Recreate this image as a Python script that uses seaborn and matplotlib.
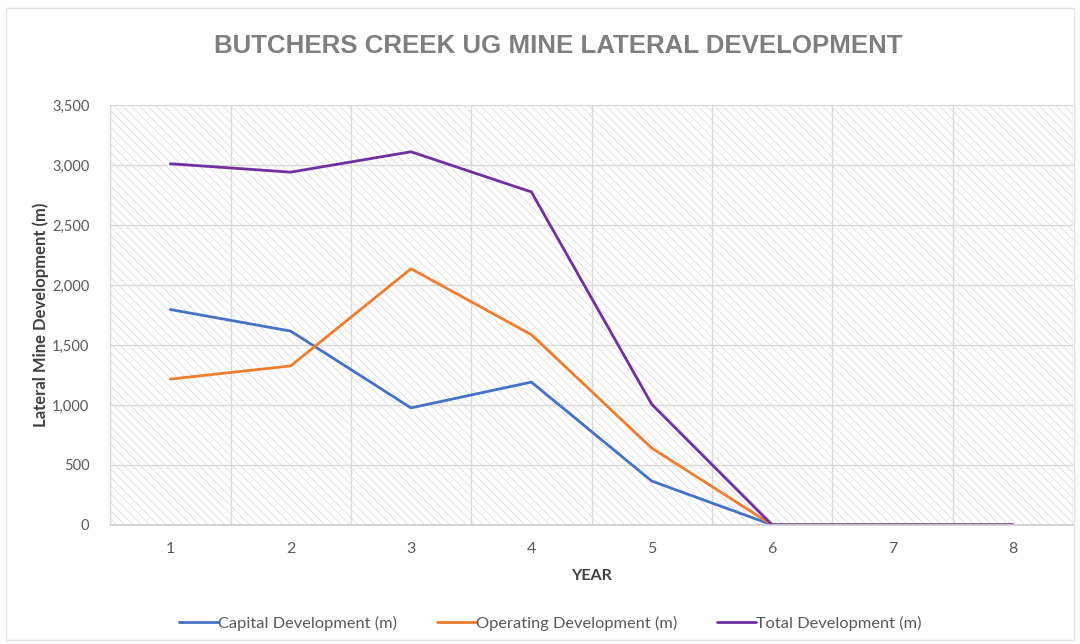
import matplotlib
matplotlib.use("Agg")
import matplotlib.pyplot as plt
import matplotlib.ticker as mticker
from matplotlib.patches import Rectangle
import seaborn as sns
import pandas as pd

years = [1, 2, 3, 4, 5, 6, 7, 8]
capital = [1795, 1615, 975, 1190, 365, 0, 0, 0]
operating = [1215, 1325, 2135, 1585, 640, 0, 0, 0]
total = [3010, 2940, 3110, 2775, 1005, 0, 0, 0]
series_names = ["Capital Development (m)", "Operating Development (m)", "Total Development (m)"]
colors = ["#4472C4", "#ED7D31", "#7030A0"]

df = pd.concat([
    pd.DataFrame({"Year": years, "Value": vals, "Series": name})
    for name, vals in zip(series_names, [capital, operating, total])
])

sns.set_theme(style="white")
plt.rcParams["font.family"] = ["Lato", "DejaVu Sans"]
plt.rcParams["hatch.linewidth"] = 0.6

fig = plt.figure(figsize=(10.8, 6.44), dpi=100)
fig.patches.append(Rectangle((0.006, 0.006), 0.988, 0.982, transform=fig.transFigure,
                             fill=False, edgecolor="#e3e3e3", linewidth=1.0))
ax = fig.add_axes([0.102, 0.185, 0.8915, 0.652])

# hatched plot-area fill
ax.patch.set_facecolor("white")
ax.patch.set_hatch("\\\\\\\\")
ax.patch.set_edgecolor("#dedede")

sns.lineplot(data=df, x="Year", y="Value", hue="Series", palette=colors,
             linewidth=2.0, ax=ax, legend=True)

ax.set_xlim(0.5, 8.5)
ax.set_ylim(0, 3500)
ax.yaxis.set_major_locator(mticker.MultipleLocator(500))
ax.yaxis.set_major_formatter(mticker.FuncFormatter(lambda v, p: f"{int(v):,}"))
ax.set_xticks(years)
ax.set_xticks([y + 0.5 for y in [0] + years], minor=True)

ax.grid(True, axis="y", which="major", color="#d9d9d9", linewidth=1.0)
ax.grid(True, axis="x", which="minor", color="#d9d9d9", linewidth=1.0)
ax.grid(False, axis="x", which="major")
ax.set_axisbelow(True)

for s in ["top", "right", "left"]:
    ax.spines[s].set_visible(False)
ax.spines["bottom"].set_color("#d0d0d0")
ax.tick_params(axis="x", which="major", length=0, pad=12, labelsize=11.5, labelcolor="#595959")
ax.tick_params(axis="x", which="minor", length=5, color="#d0d0d0", direction="out")
ax.tick_params(axis="y", length=0, pad=15, labelsize=10.5, labelcolor="#595959")

ax.set_xlabel("YEAR", fontsize=11.5, fontweight="bold", color="#404040", labelpad=10)
ax.set_ylabel("Lateral Mine Development (m)", fontsize=12, fontweight="bold",
              color="#404040", labelpad=2)

fig.text(0.517, 0.929, "BUTCHERS CREEK UG MINE LATERAL DEVELOPMENT", ha="center",
         va="center", fontsize=18.6, fontweight="bold", color="#7f7f7f",
         family="Liberation Sans")

handles, labels = ax.get_legend_handles_labels()
ax.legend(handles, labels, loc="center", bbox_to_anchor=(0.457, -0.235), ncol=3,
          frameon=False, fontsize=11.8, handlelength=2.4, handletextpad=0.0,
          columnspacing=2.4, labelcolor="#595959")

fig.savefig("out.png", dpi=100)
